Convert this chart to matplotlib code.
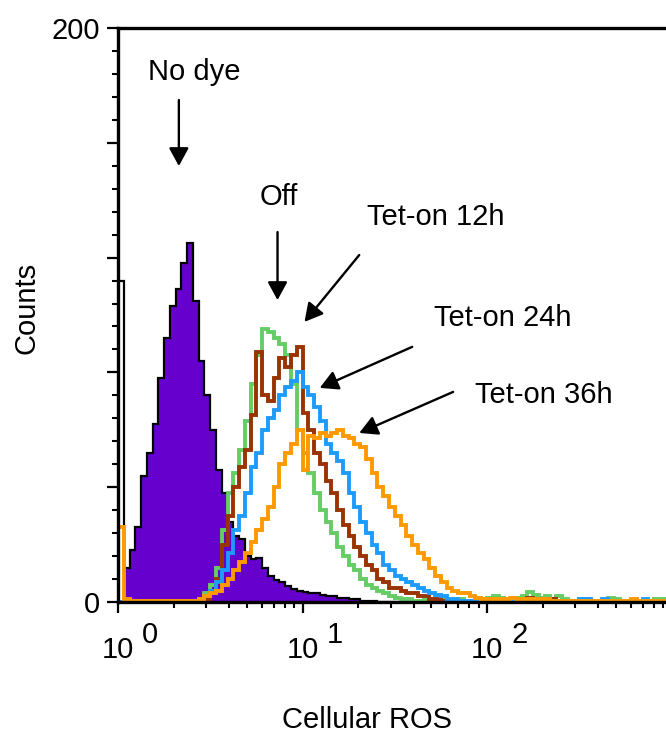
import numpy as np
import matplotlib
matplotlib.use("Agg")
import matplotlib.pyplot as plt
from matplotlib.ticker import MultipleLocator, LogLocator, NullFormatter, FuncFormatter

plt.rcParams['font.family'] = ['Liberation Sans', 'DejaVu Sans']

# ---------------- data (counts per channel, 32 channels per decade from 10^0) -------------
BINS_PER_DECADE = 32

no_dye = [112, 12, 18, 26, 44, 52, 62, 78,
          92, 103, 109, 118, 125, 105, 84, 72,
          60, 46, 38, 28, 23, 22, 16, 15,
          15.5, 12, 9, 7.5, 7, 5.5, 4.5, 4,
          3.5, 3, 3, 2.5, 2, 2, 1.5, 1.5,
          1, 1, 0.5, 0.5, 0.5, 0, 0, 0,
          0, 0, 0, 0, 0, 0, 0, 0,
          0, 0, 0, 0, 0, 0, 0, 0,
          0, 0, 0, 0, 0, 0, 0, 0,
          0, 0, 0, 0, 0, 0, 0, 0,
          0, 0, 0, 0, 0, 0, 0, 0,
          0, 0, 0, 0, 0, 0, 0]

off = [0, 0, 0, 0, 0, 0, 0, 0,
       0, 0, 0, 0, 0, 0, 1, 3,
       6, 12, 25, 38, 45, 53, 63, 76,
       86, 95, 94, 92, 90, 86, 76, 60,
       52, 45, 38, 32, 28, 24, 19, 16,
       13, 11, 8, 6, 5, 4, 3, 2,
       1.5, 1, 1, 0.5, 0.5, 1, 0.5, 0.5,
       1, 0.5, 0.5, 1, 0.5, 0.5, 1, 1,
       1.5, 2, 1.5, 1, 1, 1.5, 2, 3.5,
       2.5, 1.5, 2, 1, 2, 1, 0.5, 0.5,
       1, 1, 0.5, 0.5, 0.5, 1.5, 1, 0.5,
       0.5, 0.5, 0.5, 0.5, 0.5, 1, 1]

tet_on_12h = [0, 0, 0, 0, 0, 0, 0, 0,
              0, 0, 0, 0, 0, 0, 0.5, 1,
              3, 8, 20, 30, 40, 47, 53, 65,
              87, 72, 70, 78, 85, 82, 86, 89,
              66, 60, 52, 48, 42, 38, 32, 27,
              23, 19, 16, 13, 11, 8, 7, 5,
              5, 4, 3, 3, 2, 2, 1, 1,
              0.5, 0.5, 0.5, 0.5, 0.5, 0.5, 0.5, 0.5,
              0.5, 0.5, 0.5, 0.5, 0.5, 0.5, 0.5, 1.5,
              1, 0.5, 0.5, 1, 0.5, 0.5, 0, 0,
              0, 0, 0, 0, 0, 0, 0, 0,
              0, 0, 0, 0, 0, 0, 0]

tet_on_24h = [0, 0, 0, 0, 0, 0, 0, 0,
              0, 0, 0, 0, 0, 0, 1, 2,
              4, 7, 11, 17, 25, 30, 38, 47,
              52, 60, 64, 67, 72, 75, 77, 80,
              75, 72, 68, 63, 55, 52, 49, 45,
              38, 33, 28, 24, 20, 17, 13, 11,
              9, 8, 7, 6, 5, 4, 3, 2.5,
              2, 1, 1, 0.5, 0.5, 0.5, 0.5, 0.5,
              0.5, 0.5, 0.5, 0.5, 0.5, 0.5, 0.5, 0.5,
              0.5, 0.5, 0.5, 0.5, 0.5, 0.5, 0.5, 0.5,
              1, 1, 0.5, 0.5, 1, 0.5, 0.5, 0.5,
              0.5, 0.5, 0.5, 1, 0.5, 0.5, 0.5]

tet_on_36h = [26, 1, 0.5, 0.5, 0.5, 0.5, 0.5, 0.5,
              0.5, 0.5, 0.5, 0.5, 0.5, 0.5, 1, 2,
              3, 4, 6, 8, 11, 14, 17, 21,
              25, 29, 33, 40, 48, 52, 55, 60,
              46, 58, 57, 59, 58, 59, 60, 58,
              57, 55, 54, 50, 45, 40, 37, 33,
              30, 27, 23, 20, 17, 15, 12, 9,
              7, 5, 4, 3, 3, 2, 1.5, 1,
              1, 1, 1, 1, 1.5, 1, 1, 1,
              1, 1, 1, 0.5, 0.5, 0.5, 0.5, 0.5,
              0.5, 0.5, 0.5, 0.5, 0.5, 0.5, 0.5, 0.5,
              0.5, 1, 0.5, 0.5, 0.5, 0.5, 0.5]

x_tick_exponents = ['0', '1', '2']
y_tick_labels = {0: '0', 200: '200'}

# ---------------- figure ----------------
W, H = 666, 736
FS = 21
fig = plt.figure(figsize=(W / 100, H / 100), dpi=100)
ax = fig.add_axes([118 / W, 1 - 602 / H, 1 - 118 / W, (602 - 28) / H])

edges = 10 ** (np.arange(len(no_dye) + 1) / BINS_PER_DECADE)

# first channel (pile-up spike) is shown as outline only, as in the original
ax.stairs(no_dye[1:], edges[1:], fill=True, color='#6600CC', lw=0, zorder=2)
ax.stairs(no_dye, edges, color='black', lw=1.6, zorder=3)
for vals, col in ((off, '#66CC66'), (tet_on_12h, '#993300'),
                  (tet_on_24h, '#1E9BFF'), (tet_on_36h, '#FF9900')):
    ax.stairs(vals, edges, color=col, lw=2.8, zorder=4)

ax.set_xscale('log')
ax.set_xlim(1, 10 ** 2.97)
ax.set_ylim(0, 200)

for s in ('left', 'bottom', 'top'):
    ax.spines[s].set_linewidth(2.4)
    ax.spines[s].set_zorder(5)
ax.spines['right'].set_visible(False)

ax.yaxis.set_major_locator(MultipleLocator(40))
ax.yaxis.set_minor_locator(MultipleLocator(8))
ax.yaxis.set_major_formatter(FuncFormatter(lambda v, p: y_tick_labels.get(int(round(v)), '')))
ax.xaxis.set_major_locator(LogLocator(base=10, numticks=10))
ax.xaxis.set_minor_locator(LogLocator(base=10, subs=np.arange(2, 10), numticks=10))
ax.xaxis.set_major_formatter(NullFormatter())
ax.xaxis.set_minor_formatter(NullFormatter())
ax.tick_params(which='major', direction='out', length=8, width=1.6, labelsize=FS, pad=5)
ax.tick_params(which='minor', direction='out', length=4.3, width=1.5)
ax.tick_params(top=False, right=False)

# x tick labels "10" with a raised exponent
for k, e in enumerate(x_tick_exponents):
    ax.annotate('10', xy=(10 ** k, 0), xycoords=('data', 'axes fraction'),
                xytext=(0, -56 * 0.72), textcoords='offset points',
                ha='center', va='baseline', fontsize=FS, annotation_clip=False)
    ax.annotate(e, xy=(10 ** k, 0), xycoords=('data', 'axes fraction'),
                xytext=(24 * 0.72, -41 * 0.72), textcoords='offset points',
                ha='left', va='baseline', fontsize=FS, annotation_clip=False)

fig.text(26 / W, 1 - 308 / H, 'Counts', rotation=90, ha='center', va='center', fontsize=FS)
fig.text(367 / W, 1 - 728 / H, 'Cellular ROS', ha='center', va='baseline', fontsize=FS)

# annotations
arrow = dict(arrowstyle='-|>,head_length=0.55,head_width=0.3', lw=1.7, color='black',
             shrinkA=0, shrinkB=0, mutation_scale=20)
ax.text(2.58, 182, 'No dye', ha='center', va='baseline', fontsize=FS)
ax.annotate('', xy=(2.137, 151.9), xytext=(2.137, 174.9), arrowprops=arrow)
ax.text(7.42, 138.3, 'Off', ha='center', va='baseline', fontsize=FS)
ax.annotate('', xy=(7.32, 105.2), xytext=(7.32, 128.9), arrowprops=arrow)
ax.text(22.46, 131.4, 'Tet-on 12h', ha='left', va='baseline', fontsize=FS)
ax.annotate('', xy=(10.25, 97.6), xytext=(20.3, 120.9), arrowprops=arrow)
ax.text(51.7, 96.2, 'Tet-on 24h', ha='left', va='baseline', fontsize=FS)
ax.annotate('', xy=(12.4, 74.6), xytext=(39.3, 88.9), arrowprops=arrow)
ax.text(86.1, 69.3, 'Tet-on 36h', ha='left', va='baseline', fontsize=FS)
ax.annotate('', xy=(20.3, 58.9), xytext=(65.5, 73.2), arrowprops=arrow)

fig.savefig('out.png', dpi=100)
